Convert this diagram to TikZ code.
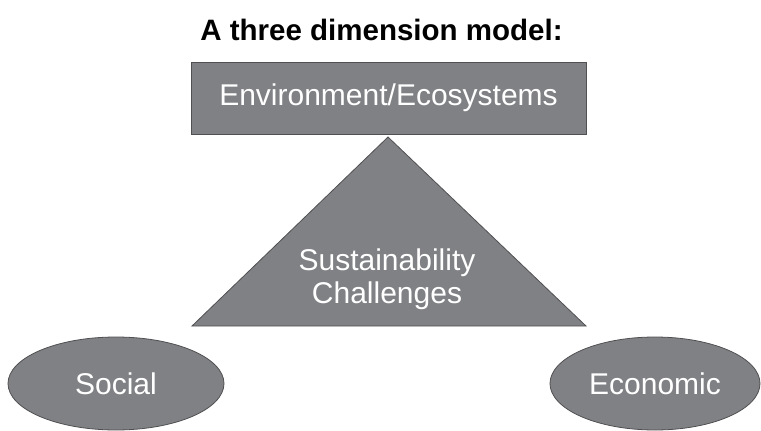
\documentclass[tikz,border=0pt]{standalone}
\usepackage{fontspec}
\setmainfont{Liberation Sans}
\usetikzlibrary{shapes.geometric}
\definecolor{boxgray}{RGB}{128,129,133}
\definecolor{edgegray}{RGB}{80,80,82}
\tikzset{
  shapefill/.style={fill=boxgray, draw=edgegray, line width=0.8pt},
  lbl/.style={text=white, font=\fontsize{30}{33}\selectfont, align=center},
  oval/.style={shapefill, ellipse, inner sep=0pt, minimum width=216pt, minimum height=93pt, lbl}
}
\begin{document}
\begin{tikzpicture}[x=1pt,y=-1pt]
\useasboundingbox (0,0) rectangle (761,431);
\node[font=\fontsize{29.5}{33}\selectfont\bfseries] (title) at (381.5,30) {A three dimension model:};
\node[shapefill, minimum width=395pt, minimum height=72pt, inner sep=0pt, lbl] (env) at (388.5,98) {Environment/Ecosystems};
\coordinate (apex) at (388,137);
\coordinate (bl) at (192,326);
\coordinate (br) at (586,326);
\draw[shapefill] (apex) -- (br) -- (bl) -- cycle;
\node[lbl] (sus) at (387,279) {Sustainability\\Challenges};
\node[oval] (soc) at (116,383.5) {Social};
\node[oval, minimum width=210pt] (eco) at (655,383.5) {Economic};
\end{tikzpicture}
\end{document}
